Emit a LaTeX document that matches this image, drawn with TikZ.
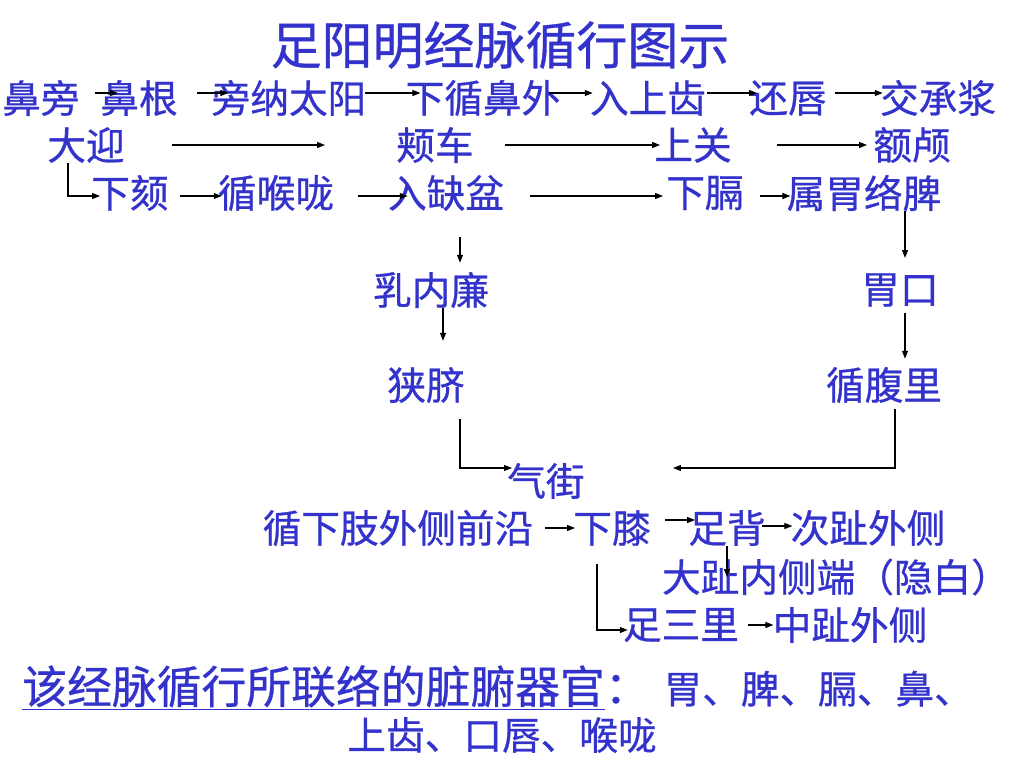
\documentclass[tikz,border=0pt]{standalone}
\usepackage{fontspec}
\setmainfont{Noto Sans CJK SC}[FakeBold=0.7]
\usepackage{xcolor}
\usetikzlibrary{arrows.meta, calc, positioning}
\definecolor{jing}{RGB}{51,51,204}

\begin{document}
\begin{tikzpicture}[x=0.02cm,y=-0.02cm,
    wz/.style={text=jing,inner sep=0pt,font=\fontsize{22}{26}\selectfont},
    jt/.style={-{Triangle[length=4.5pt,width=3.4pt]},line width=0.6pt}]
       \useasboundingbox (0,0) rectangle (1024,768);
       %\draw [step=100] (0,0) grid (1024,768);
       \node[wz,font=\fontsize{29}{34}\selectfont] (bt) at (500,45) {足阳明经脉循行图示};
       % first row
       \node[wz] (bp) at (41,98) {鼻旁};
       \node[wz] (bg) at (139,98) {鼻根};
       \node[wz] (pn) at (289,98) {旁纳太阳};
       \node[wz] (xw) at (483,98) {下循鼻外};
       \node[wz] (rs) at (648,98) {入上齿};
       \node[wz] (hc) at (788,98) {还唇};
       \node[wz] (jc) at (938,98) {交承浆};
       \draw[jt] ($(bp.east)+(15,-5)$) -- ($(bg.west)+(18,-5)$);
       \draw[jt] ($(bg.east)+(19,-5)$) -- ($(pn.west)+(17,-5)$);
       \draw[jt] ($(pn.east)+(-2,-5)$) -- ($(xw.west)+(15,-5)$);
       \draw[jt] ($(xw.east)+(-12,-5)$) -- ($(rs.west)+(3,-5)$);
       \draw[jt] ($(rs.east)+(1,-5)$) -- ($(hc.west)+(8,-5)$);
       \draw[jt] ($(hc.east)+(8,-5)$) -- ($(jc.west)+(3,-5)$);
       % second row
       \node[wz] (dy) at (86,145) {大迎};
       \node[wz] (jch) at (435,145) {颊车};
       \node[wz] (sg) at (693,145) {上关};
       \node[wz] (el) at (912,145) {额颅};
       \draw[jt] ($(dy.east)+(47,0)$) -- ($(jch.west)+(-71,0)$);
       \draw[jt] ($(jch.east)+(31,0)$) -- ($(sg.west)+(6,0)$);
       \draw[jt] ($(sg.east)+(45,0)$) -- ($(el.west)+(-6,0)$);
       % third row
       \node[wz] (xk) at (130,193) {下颏};
       \node[wz] (xh) at (276,193) {循喉咙};
       \node[wz] (qp) at (446,193) {入缺盆};
       \node[wz] (xg) at (705,193) {下膈};
       \node[wz] (sw) at (864,193) {属胃络脾};
       \draw[jt] ($(dy.south west)+(21,0)$) |- ($(xk.west)+(9,3)$);
       \draw[jt] ($(xk.east)+(11,3)$) -- ($(xh.west)+(4,3)$);
       \draw[jt] ($(xh.east)+(24,3)$) -- ($(qp.west)+(20,3)$);
       \draw[jt] ($(qp.east)+(26,3)$) -- ($(xg.west)+(-3,3)$);
       \draw[jt] ($(xg.east)+(16,3)$) -- ($(sw.west)+(4,3)$);
       % two branches down to qijie
       \node[wz] (rn) at (431,290) {乳内廉};
       \node[wz] (xq) at (426,385) {狭脐};
       \node[wz] (wk) at (900,290) {胃口};
       \node[wz] (xf) at (884,385) {循腹里};
       \node[wz] (qj) at (546,481) {气街};
       \draw[jt] ($(qp.south)+(14,26)$) -- ($(rn.north)+(29,-9)$);
       \draw[jt] ($(rn.south)+(12,0)$) -- ($(xq.north)+(17,-26)$);
       \draw[jt] ($(xq.south east)+(-5,16)$) |- ($(qj.west)+(5,-13)$);
       \draw[jt] ($(sw.south)+(41,0)$) -- ($(wk.north)+(5,-15)$);
       \draw[jt] ($(wk.south)+(5,6)$) -- ($(xf.north)+(21,-8)$);
       \draw[jt] ($(xf.south)+(11,6)$) |- ($(qj.east)+(88,-13)$);
       % leg and foot
       \node[wz] (xz) at (398,528) {循下肢外侧前沿};
       \node[wz] (xx) at (612,528) {下膝};
       \node[wz] (zb) at (727,528) {足背};
       \node[wz] (cz) at (868,528) {次趾外侧};
       \node[wz] (dz) at (836,577) {大趾内侧端（隐白）};
       \node[wz] (zs) at (681,625) {足三里};
       \node[wz] (zz) at (850,625) {中趾外侧};
       \draw[jt] ($(xz.east)+(11,0)$) -- ($(xx.west)+(2,0)$);
       \draw[jt] ($(xx.east)+(14,-8)$) -- ($(zb.west)+(7,-8)$);
       \draw[jt] ($(zb.east)+(-4,-2)$) -- ($(cz.west)+(2,-2)$);
       \draw[jt] (zb.south) -- (zb.south |- dz.center);
       \draw[jt] ($(xx.south)+(-15,18)$) |- ($(zs.west)+(5,5)$);
       \draw[jt] ($(zs.east)+(9,0)$) -- ($(zz.west)+(1,0)$);
       % organs
       \node[wz,anchor=west] (zf) at (22,688) {{\fontsize{25.5}{30}\selectfont\underline{该经脉循行所联络的脏腑器官}：}\hspace{8pt}胃、脾、膈、鼻、};
       \node[wz] (sc) at (502,735) {上齿、口唇、喉咙};
    \end{tikzpicture}
\end{document}
